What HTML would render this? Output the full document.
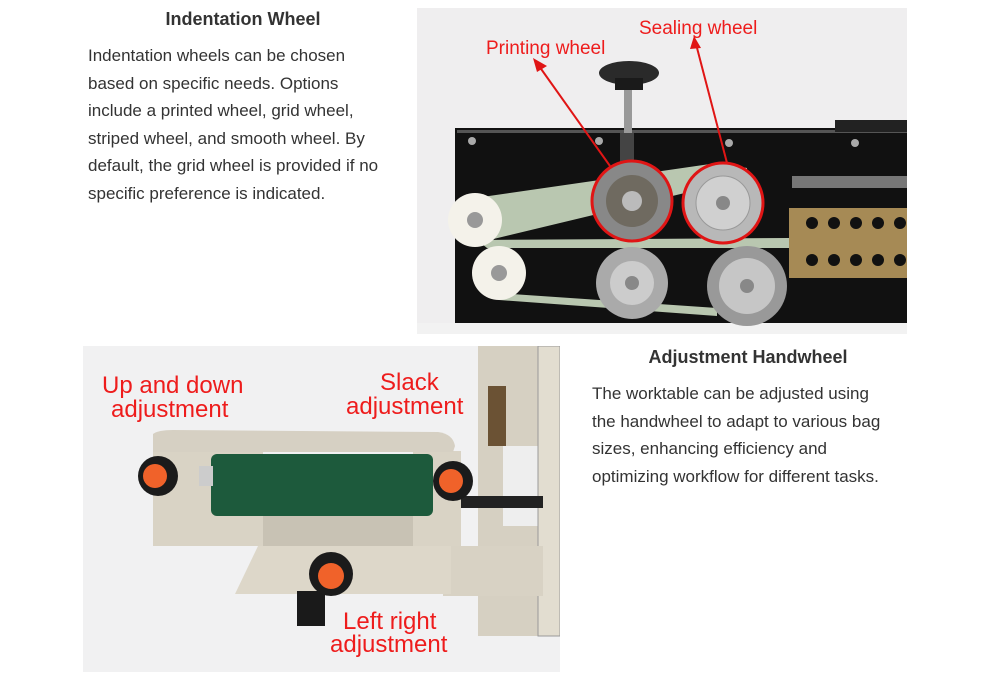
<!DOCTYPE html>
<html><head><meta charset="utf-8"><style>
body{margin:0;width:1000px;height:677px;background:#fff;position:relative;font-family:"Liberation Sans",Arial,sans-serif;color:#333;overflow:hidden}
h2{position:absolute;margin:0;font-size:18px;font-weight:bold;color:#333;text-align:center}
p{position:absolute;margin:0;font-size:17px;line-height:27.5px;color:#333}
svg{position:absolute}
svg text{font-family:"Liberation Sans",Arial,sans-serif;fill:#ee1c1c}
</style></head><body>
<h2 style="left:88px;top:9px;width:310px">Indentation Wheel</h2>
<p style="left:88px;top:42px;width:302px">Indentation wheels can be chosen based on specific needs. Options include a printed wheel, grid wheel, striped wheel, and smooth wheel. By default, the grid wheel is provided if no specific preference is indicated.</p>

<svg style="left:417px;top:8px" width="490" height="326" viewBox="0 0 490 326">
<rect width="490" height="326" fill="#efeeef"/>
<rect x="38" y="120" width="452" height="196" fill="#111"/>
<rect x="40" y="122" width="450" height="3" fill="#555"/>
<rect x="418" y="112" width="72" height="12" fill="#222"/>
<rect x="0" y="315" width="490" height="11" fill="#f2f2f2"/>
<circle cx="55" cy="133" r="4" fill="#aaa"/><circle cx="182" cy="133" r="4" fill="#aaa"/><circle cx="312" cy="135" r="4" fill="#aaa"/><circle cx="438" cy="135" r="4" fill="#aaa"/>
<rect x="207" y="80" width="8" height="45" fill="#999"/>
<rect x="203" y="125" width="14" height="30" fill="#444"/>
<ellipse cx="212" cy="65" rx="30" ry="12" fill="#2a2a2a"/>
<rect x="198" y="70" width="28" height="12" fill="#1a1a1a"/>
<polygon points="58,190 300,155 330,160 330,170 60,235" fill="#b9c7b0"/>
<polygon points="60,232 372,230 372,240 70,240" fill="#b9c7b0"/>
<polygon points="80,285 300,300 300,308 82,292" fill="#b9c7b0"/>
<rect x="372" y="200" width="118" height="70" fill="#a68a55"/>
<g fill="#111"><circle cx="395" cy="215" r="6"/><circle cx="417" cy="215" r="6"/><circle cx="439" cy="215" r="6"/><circle cx="461" cy="215" r="6"/><circle cx="483" cy="215" r="6"/><circle cx="395" cy="252" r="6"/><circle cx="417" cy="252" r="6"/><circle cx="439" cy="252" r="6"/><circle cx="461" cy="252" r="6"/><circle cx="483" cy="252" r="6"/></g>
<rect x="375" y="168" width="115" height="12" fill="#777"/>
<circle cx="215" cy="193" r="40" fill="#888"/><circle cx="215" cy="193" r="26" fill="#6f6a60"/><circle cx="215" cy="193" r="10" fill="#bbb"/>
<circle cx="306" cy="195" r="40" fill="#b8b8b8"/><circle cx="306" cy="195" r="27" fill="#d0d0d0" stroke="#999"/><circle cx="306" cy="195" r="7" fill="#888"/>
<circle cx="215" cy="193" r="40" fill="none" stroke="#e01515" stroke-width="3"/>
<circle cx="306" cy="195" r="40" fill="none" stroke="#e01515" stroke-width="3"/>
<circle cx="58" cy="212" r="27" fill="#f4f2ea"/><circle cx="58" cy="212" r="8" fill="#999"/>
<circle cx="82" cy="265" r="27" fill="#f4f2ea"/><circle cx="82" cy="265" r="8" fill="#999"/>
<circle cx="215" cy="275" r="36" fill="#aaa"/><circle cx="215" cy="275" r="22" fill="#ccc"/><circle cx="215" cy="275" r="7" fill="#888"/>
<circle cx="330" cy="278" r="40" fill="#999"/><circle cx="330" cy="278" r="28" fill="#c6c6c6"/><circle cx="330" cy="278" r="7" fill="#888"/>
<line x1="193" y1="158" x2="122" y2="58" stroke="#e01515" stroke-width="2"/><polygon points="116,50 130,58 120,64" fill="#e01515"/>
<line x1="310" y1="155" x2="279" y2="36" stroke="#e01515" stroke-width="2"/><polygon points="277,28 284,40 273,41" fill="#e01515"/>
<text x="69" y="46" font-size="19">Printing wheel</text>
<text x="222" y="26" font-size="19">Sealing wheel</text>
</svg>

<svg style="left:83px;top:346px" width="477" height="326" viewBox="0 0 477 326">
<rect width="477" height="326" fill="#f1f1f2"/>
<rect x="395" y="0" width="82" height="290" fill="#d6d0c2"/>
<rect x="405" y="40" width="18" height="60" fill="#6b5234"/>
<rect x="420" y="100" width="40" height="80" fill="#eee"/>
<rect x="455" y="0" width="22" height="290" fill="#e2ddd0" stroke="#999"/>
<rect x="370" y="150" width="90" height="12" fill="#222"/>
<rect x="360" y="200" width="100" height="50" fill="#d8d2c4"/>
<polygon points="175,200 368,200 368,248 152,248" fill="#ddd7c9"/>
<rect x="70" y="105" width="110" height="95" fill="#d9d3c5"/>
<rect x="180" y="170" width="180" height="30" fill="#c8c2b4"/>
<rect x="330" y="105" width="48" height="95" fill="#d9d3c5"/>
<rect x="128" y="108" width="222" height="62" rx="6" fill="#1d5a3c"/>
<rect x="116" y="120" width="14" height="20" fill="#ccc"/>
<path d="M70 88 Q75 84 90 84 L355 86 Q370 88 372 100 L370 106 L70 106 Z" fill="#d6d0c3"/>
<circle cx="75" cy="130" r="20" fill="#1b1b1b"/><circle cx="72" cy="130" r="12" fill="#f0622a"/>
<circle cx="370" cy="135" r="20" fill="#1b1b1b"/><circle cx="368" cy="135" r="12" fill="#f0622a"/>
<rect x="214" y="245" width="28" height="35" fill="#1a1a1a"/>
<circle cx="248" cy="228" r="22" fill="#1b1b1b"/><circle cx="248" cy="230" r="13" fill="#f0622a"/>
<text x="19" y="47" font-size="24">Up and down</text>
<text x="28" y="71" font-size="24">adjustment</text>
<text x="297" y="44" font-size="24">Slack</text>
<text x="263" y="68" font-size="24">adjustment</text>
<text x="260" y="283" font-size="24">Left right</text>
<text x="247" y="306" font-size="24">adjustment</text>
</svg>

<h2 style="left:592px;top:347px;width:312px">Adjustment Handwheel</h2>
<p style="left:592px;top:380px;width:298px">The worktable can be adjusted using the handwheel to adapt to various bag sizes, enhancing efficiency and optimizing workflow for different tasks.</p>
</body></html>
